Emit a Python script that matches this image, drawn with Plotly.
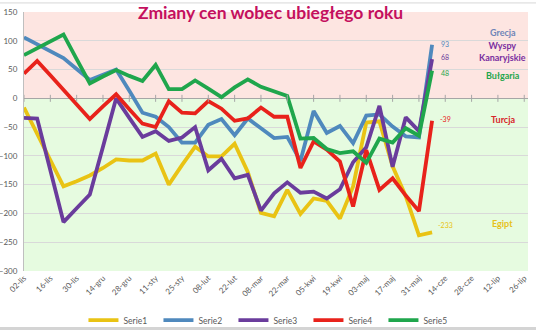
import plotly.graph_objects as go
import pandas as pd

# ---- data ----
tick_labels = ["02-lis", "16-lis", "30-lis", "14-gru", "28-gru", "11-sty", "25-sty",
               "08-lut", "22-lut", "08-mar", "22-mar", "05-kwi", "19-kwi", "03-maj",
               "17-maj", "31-maj", "14-cze", "28-cze", "12-lip", "26-lip"]
tick_dates = pd.date_range("2014-11-02", periods=len(tick_labels), freq="14D")
weeks = pd.date_range("2014-11-02", periods=32, freq="7D")

serie1 = [-16, -62, -108, -153, -144, -134, -121, -106, -108, -108, -96, -150, -116, -84, -101, -101,
          -79, -128, -199, -205, -159, -201, -174, -178, -209, -153, -42, -40, -118, -170, -238, -233]
serie2 = [106, 94, 83, 70, 51, 32, 41, 50, 13, -25, -32, -50, -77, -77, -46, -36,
          -64, -35, -52, -69, -67, -109, -22, -60, -48, -78, -30, -28, -49, -66, -68, 93]
serie3 = [-34, -35, -125, -215, -191, -167, -84, 0, -34, -67, -57, -74, -68, -50, -125, -105,
          -139, -133, -195, -165, -146, -164, -162, -174, -158, -111, -85, -13, -119, -33, -57, 68]
serie4 = [43, 65, 40, 14, -11, -36, -14, 7, -19, -44, -50, -5, -25, -26, -5, -18,
          -39, -35, -16, -32, -32, -121, -75, -89, -110, -188, -90, -159, -139, -169, -196, -39]
serie5 = [75, 87, 99, 111, 68, 26, 38, 49, 39, 30, 58, 16, 16, 31, 17, 2,
          19, 33, 20, 12, 4, -70, -69, -88, -95, -92, -112, -70, -77, -52, -65, 48]

series_names = ["Serie1", "Serie2", "Serie3", "Serie4", "Serie5"]
series_values = [serie1, serie2, serie3, serie4, serie5]
colors = ["#e9c314", "#4f89bd", "#6a3c9c", "#e8221b", "#1fa64c"]

countries = ["Grecja", "Wyspy<br>Kanaryjskie", "Bułgaria", "Turcja", "Egipt"]
country_colors = ["#6f86b8", "#7a2fa0", "#1fa64c", "#d8262a", "#e6c11a"]
country_levels = [115, 81, 40, -36, -218]

FONT = "Lato"

fig = go.Figure()

for name, vals, col in zip(series_names, series_values, colors):
    fig.add_trace(go.Scatter(x=weeks, y=vals, mode="lines", name=name,
                             line=dict(color=col, width=3.8), hoverinfo="skip"))

# small tick marks on the zero axis line
fig.add_trace(go.Scatter(x=tick_dates, y=[0] * len(tick_dates), mode="markers",
                         marker=dict(symbol="line-ns", size=5,
                                     line=dict(color="#a6a6a6", width=1)),
                         showlegend=False, hoverinfo="skip"))

x_end = tick_dates[-1] + pd.Timedelta(days=2)

shapes = [
    dict(type="rect", xref="paper", yref="y", x0=0, x1=1, y0=0, y1=150,
         fillcolor="#fde5e1", line=dict(width=0), layer="below"),
    dict(type="rect", xref="paper", yref="y", x0=0, x1=1, y0=-300, y1=0,
         fillcolor="#e6fbe0", line=dict(width=0), layer="below"),
    dict(type="line", xref="paper", yref="paper", x0=-0.05, x1=1.02, y0=-0.222, y1=-0.222,
         line=dict(color="#d4d4d4", width=3)),
    dict(type="line", xref="paper", yref="paper", x0=-0.05, x1=1.02, y0=1.035, y1=1.035,
         line=dict(color="#d8d8d8", width=1)),
]

annotations = [
    dict(text="<b>Zmiany cen wobec ubiegłego roku</b>", xref="paper", yref="paper",
         x=0.49, y=1.0, xanchor="center", yanchor="middle", showarrow=False,
         font=dict(family=FONT, size=17.5, color="#c4105e")),
]

# final value labels
last_date = weeks[-1] + pd.Timedelta(days=7)
value_y_shift = {0: 7, 1: 1, 2: 2, 3: 2, 4: -2}
for i, (vals, col) in enumerate(zip(series_values, colors)):
    annotations.append(dict(text=str(vals[-1]), x=last_date, y=vals[-1], xref="x", yref="y",
                            xanchor="center", yanchor="middle", showarrow=False,
                            yshift=value_y_shift[i],
                            font=dict(family=FONT, size=7, color=col)))

# country labels
for name, col, yy in zip(countries, country_colors, country_levels):
    annotations.append(dict(text="<b>" + name + "</b>", xref="paper", yref="y",
                            x=0.95, y=yy, xanchor="center", yanchor="middle",
                            showarrow=False,
                            font=dict(family=FONT, size=9, color=col)))

fig.update_layout(
    width=536, height=332,
    margin=dict(l=24, r=8, t=12, b=61, autoexpand=False),
    paper_bgcolor="white", plot_bgcolor="white",
    font=dict(family=FONT, size=8, color="#595959"),
    showlegend=True,
    legend=dict(orientation="h", x=0.49, xanchor="center", y=-0.19, yanchor="middle",
                font=dict(family=FONT, size=8.5, color="#595959"),
                bgcolor="rgba(0,0,0,0)",
                itemwidth=30, entrywidth=30, entrywidthmode="pixels", tracegroupgap=0),
    shapes=shapes,
    annotations=annotations,
    xaxis=dict(type="date", range=[weeks[0], x_end], automargin=False,
               tickvals=tick_dates, ticktext=tick_labels, tickangle=-45,
               showgrid=False, zeroline=False, showline=False, ticks="",
               tickfont=dict(family=FONT, size=8, color="#595959")),
    yaxis=dict(range=[-300, 150], dtick=50, tick0=0, automargin=False,
               showgrid=True, gridcolor="#d9d9d9", gridwidth=1,
               zeroline=True, zerolinecolor="#a6a6a6", zerolinewidth=1,
               showline=True, linecolor="#bfbfbf", linewidth=1,
               ticks="", ticklabelstandoff=4,
               tickfont=dict(family=FONT, size=8, color="#595959")),
)

fig.write_html("out.html")
